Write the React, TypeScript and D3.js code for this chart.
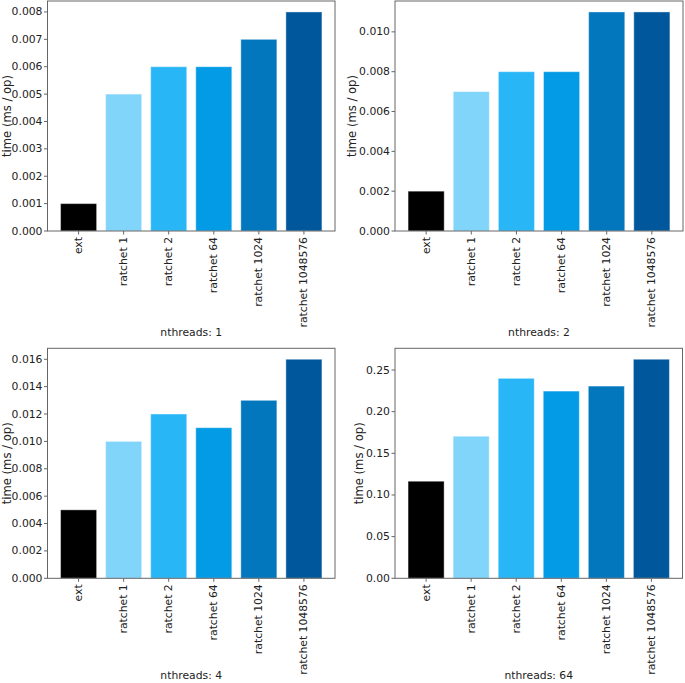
import React from 'react';
import * as d3 from 'd3';

const categories = ['ext', 'ratchet 1', 'ratchet 2', 'ratchet 64', 'ratchet 1024', 'ratchet 1048576'];
const barColors = ['#000000', '#81d4fa', '#29b6f6', '#039be5', '#0277bd', '#01579b'];

const threads1 = [0.001, 0.005, 0.006, 0.006, 0.007, 0.008];
const threads2 = [0.002, 0.007, 0.008, 0.008, 0.011, 0.011];
const threads4 = [0.005, 0.01, 0.012, 0.011, 0.013, 0.016];
const threads64 = [0.1165, 0.1705, 0.24, 0.2247, 0.2307, 0.2629];

const ticks1 = [0, 0.001, 0.002, 0.003, 0.004, 0.005, 0.006, 0.007, 0.008];
const ticks2 = [0, 0.002, 0.004, 0.006, 0.008, 0.01];
const ticks4 = [0, 0.002, 0.004, 0.006, 0.008, 0.01, 0.012, 0.014, 0.016];
const ticks64 = [0, 0.05, 0.1, 0.15, 0.2, 0.25];

const panels = [
  { title: 'nthreads: 1', values: threads1, ticks: ticks1, fmt: '.3f', left: 47.5, top: 1, right: 335, bottom: 231 },
  { title: 'nthreads: 2', values: threads2, ticks: ticks2, fmt: '.3f', left: 395, top: 1, right: 683, bottom: 231 },
  { title: 'nthreads: 4', values: threads4, ticks: ticks4, fmt: '.3f', left: 47.5, top: 348.3, right: 335, bottom: 578.3 },
  { title: 'nthreads: 64', values: threads64, ticks: ticks64, fmt: '.2f', left: 395, top: 348.3, right: 682.5, bottom: 578.3 },
];

const FONT = 'DejaVu Sans, Verdana, sans-serif';
const FS = 10.8;
const AXIS = '#666666';

// rough DejaVu Sans width for the numeric labels
const labelWidth = (s: string) => s.split('').reduce((w, c) => w + (c === '.' ? 0.318 : 0.636), 0) * FS;

const Panel = ({ p }) => {
  const x = d3.scaleLinear().domain([-0.69, categories.length - 1 + 0.69]).range([p.left, p.right]);
  const maxV = d3.max(p.values) as number;
  const y = d3.scaleLinear().domain([0, maxV * 1.05]).range([p.bottom, p.top]);
  const fmt = d3.format(p.fmt);
  const bw = x(0.4) - x(-0.4);
  const widest = d3.max(p.ticks, t => labelWidth(fmt(t))) as number;
  const tickLeft = p.left - 5 - widest;

  return (
    <g>
      {p.values.map((v, i) => (
        <rect
          key={i}
          x={x(i - 0.4)}
          y={y(v)}
          width={bw}
          height={y(0) - y(v)}
          fill={barColors[i]}
          stroke="#ffffff"
          strokeOpacity={0.4}
          strokeWidth={1}
        />
      ))}
      <rect
        x={p.left}
        y={p.top}
        width={p.right - p.left}
        height={p.bottom - p.top}
        fill="none"
        stroke={AXIS}
        strokeWidth={1}
      />
      {p.ticks.map(t => (
        <g key={t}>
          <line x1={p.left - 3.5} x2={p.left} y1={y(t)} y2={y(t)} stroke={AXIS} />
          <text
            x={p.left - 5}
            y={y(t)}
            textAnchor="end"
            dominantBaseline="central"
            fontSize={FS}
            fontFamily={FONT}
            fill="#222"
          >
            {fmt(t)}
          </text>
        </g>
      ))}
      {categories.map((c, i) => (
        <g key={c}>
          <line x1={x(i)} x2={x(i)} y1={p.bottom} y2={p.bottom + 3.5} stroke={AXIS} />
          <text
            transform={`translate(${x(i)},${p.bottom + 6}) rotate(-90)`}
            textAnchor="end"
            dominantBaseline="central"
            fontSize={FS}
            fontFamily={FONT}
            fill="#222"
          >
            {c}
          </text>
        </g>
      ))}
      <text
        transform={`translate(${Math.max(tickLeft - 6.7, 7)},${(p.top + p.bottom) / 2}) rotate(-90)`}
        textAnchor="middle"
        dominantBaseline="central"
        fontSize={11.6}
        fontFamily={FONT}
        fill="#222"
      >
        time (ms / op)
      </text>
      <text
        x={(p.left + p.right) / 2}
        y={Math.min(p.bottom + 101, 675)}
        textAnchor="middle"
        dominantBaseline="central"
        fontSize={FS}
        fontFamily={FONT}
        fill="#222"
      >
        {p.title}
      </text>
    </g>
  );
};

export default function App() {
  return (
    <svg
      width={685}
      height={683}
      style={{ position: 'absolute', left: 0, top: 0, background: '#fff' }}
    >
      {panels.map(p => (
        <Panel key={p.title} p={p} />
      ))}
    </svg>
  );
}
